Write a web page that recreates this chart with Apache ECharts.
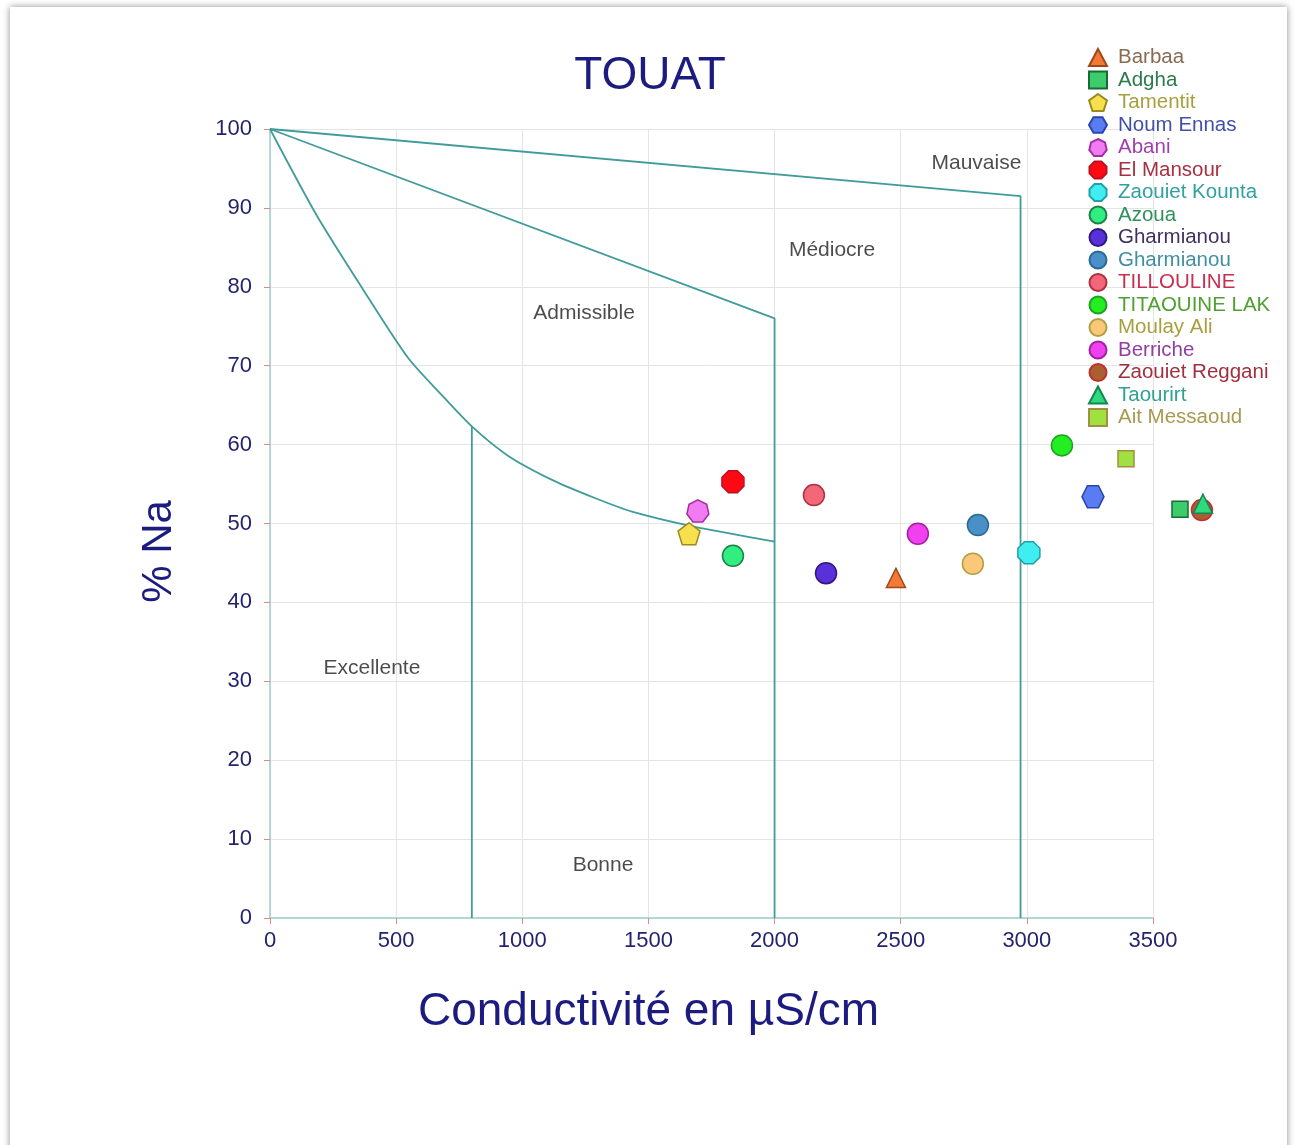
<!DOCTYPE html>
<html>
<head>
<meta charset="utf-8">
<title>TOUAT</title>
<script src="https://cdn.jsdelivr.net/npm/echarts@6/dist/echarts.min.js"></script>
<style>
  html, body { margin: 0; padding: 0; background: #ffffff; }
  #chart { width: 1296px; height: 1145px; }
</style>
</head>
<body>
<div id="chart"></div>
<script>
// Wilcox-style classification: %Na versus conductivity (µS/cm)
const xTicks = [0, 500, 1000, 1500, 2000, 2500, 3000, 3500];
const yTicks = [0, 10, 20, 30, 40, 50, 60, 70, 80, 90, 100];

// Sample sites
const siteNames = [
  'Barbaa', 'Adgha', 'Tamentit', 'Noum Ennas', 'Abani', 'El Mansour',
  'Zaouiet Kounta', 'Azoua', 'Gharmianou', 'Gharmianou ', 'TILLOULINE',
  'TITAOUINE LAK', 'Moulay Ali', 'Berriche', 'Zaouiet Reggani', 'Taourirt',
  'Ait Messaoud'
];
const conductivity = [2481, 3607, 1661, 3262, 1696, 1835, 3008, 1835, 2204, 2806, 2156, 3139, 2786, 2568, 3694, 3698, 3393];
const sodiumPct    = [43.1, 51.8, 48.7, 53.4, 51.6, 55.3, 46.3, 45.9, 43.7, 49.8, 53.6, 59.9, 44.9, 48.7, 51.7, 52.5, 58.2];

// Class boundaries
const curveBoundary = [[0, 100], [186, 89], [370, 79.6], [547, 71], [680, 66.3], [800, 62.3], [943, 58.6], [1120, 55.5], [1290, 53.2], [1435, 51.5], [1680, 49.6], [2000, 47.7]];
const line800  = [[800, 62.3], [800, 0]];
const midBoundary = [[0, 100], [2000, 76], [2000, 0]];
const topBoundary = [[0, 100], [2975, 91.5], [2975, 0]];

// Class names
const zoneNames  = ['Mauvaise', 'Médiocre', 'Admissible', 'Excellente', 'Bonne'];
const zoneAnchor = [[2800, 95.7], [2228, 84.7], [1245, 76.7], [404, 31.7], [1320, 6.7]];

const PENTAGON = 'path://M50,0 L97.6,34.5 L79.4,90.5 L20.6,90.5 L2.4,34.5 Z';
const HEXAGON  = 'path://M25,6.7 L75,6.7 L100,50 L75,93.3 L25,93.3 L0,50 Z';
const HEPTAGON = 'path://M50,0 L89.1,18.8 L98.7,61.1 L71.7,95 L28.3,95 L1.3,61.1 L10.9,18.8 Z';
const OCTAGON  = 'path://M30,0 L70,0 L100,30 L100,70 L70,100 L30,100 L0,70 L0,30 Z';

const symbols = ['triangle', 'rect', PENTAGON, HEXAGON, HEPTAGON, OCTAGON,
  OCTAGON, 'circle', 'circle', 'circle', 'circle', 'circle', 'circle', 'circle',
  'circle', 'triangle', 'rect'];
const sizes = [19, 16, 22, 22, 22, 22, 22, 21, 21, 21, 21, 21, 21, 21, 21, 19, 16];
const fills = ['#f27a36', '#3ccc6a', '#f6e04e', '#5a7cf2', '#f27af2', '#ff0a14',
  '#40eef2', '#30ee80', '#5a30d8', '#4a90c8', '#f26878', '#22ee22', '#fac878',
  '#f040f0', '#a86030', '#30d880', '#a0e040'];
const borders = ['#a04818', '#1a6a3a', '#9a8a20', '#2a44b0', '#a030a0', '#c01020',
  '#20a0a8', '#208048', '#301880', '#2a6a90', '#b03040', '#20a020', '#b0a040',
  '#a020a0', '#c03030', '#108850', '#a09040'];
const legendColors = ['#8a6a50', '#2a7a4a', '#a8a040', '#4050a8', '#a040b0', '#a83040',
  '#30a0a0', '#30905a', '#403060', '#4090a0', '#c83050', '#50a030', '#a8a040',
  '#9040a0', '#a03040', '#30a090', '#a89a50'];

const TEAL = '#3f9c9a';
const NAVY = '#1c1c80';
const FONT = '"Liberation Sans", Arial, sans-serif';

function boundary(data, smooth) {
  return {
    type: 'line', data: data, symbol: 'none', silent: true, z: 1,
    smooth: smooth ? 0.25 : false,
    lineStyle: { color: TEAL, width: 1.8 }
  };
}

const siteSeries = siteNames.map((name, i) => ({
  type: 'scatter',
  name: name,
  data: [[conductivity[i], sodiumPct[i]]],
  symbol: symbols[i],
  symbolSize: sizes[i],
  clip: false,
  z: 3,
  itemStyle: { color: fills[i], borderColor: borders[i], borderWidth: 1.5, opacity: 1 }
}));

const chart = echarts.init(document.getElementById('chart'));
chart.setOption({
  backgroundColor: '#ffffff',
  animation: false,
  graphic: [{
    type: 'rect', z: -10, silent: true,
    shape: { x: 10, y: 7, width: 1277, height: 1200 },
    style: { fill: '#ffffff', shadowBlur: 7, shadowColor: 'rgba(0,0,0,0.45)', shadowOffsetX: 0, shadowOffsetY: 0 }
  }],
  title: {
    text: 'TOUAT', left: 645, top: 48, textAlign: 'center',
    textStyle: { color: NAVY, fontSize: 46, fontWeight: 'normal', fontFamily: FONT }
  },
  legend: {
    orient: 'vertical', left: 1083, top: 42,
    itemWidth: 18, itemHeight: 17, itemGap: 1.5,
    textStyle: { fontSize: 20.5, fontFamily: FONT, lineHeight: 20, padding: [0, 0, 0, 6] },
    data: siteNames.map((n, i) => ({ name: n, textStyle: { color: legendColors[i] } }))
  },
  grid: { left: 270, right: 143, top: 129, bottom: 227 },
  xAxis: {
    type: 'value', min: 0, max: 3500, interval: 500,
    name: 'Conductivité en µS/cm', nameLocation: 'middle', nameGap: 71,
    nameTextStyle: { color: NAVY, fontSize: 46, fontFamily: FONT, padding: [0, 126, 0, 0] },
    axisLine: { show: true, lineStyle: { color: '#9ccfcf', width: 1.5 } },
    axisTick: { show: true, length: 6, lineStyle: { color: '#e08a80' } },
    axisLabel: { color: '#24246e', fontSize: 22, fontFamily: FONT, margin: 12, formatter: v => String(v) },
    splitLine: { show: true, lineStyle: { color: '#e4e4e4', width: 1 } }
  },
  yAxis: {
    type: 'value', min: 0, max: 100, interval: 10,
    name: '% Na', nameLocation: 'middle', nameGap: 90, nameRotate: 90,
    nameTextStyle: { color: NAVY, fontSize: 42, fontFamily: FONT, padding: [0, 56, 0, 0] },
    axisLine: { show: true, lineStyle: { color: '#9ccfcf', width: 1.5 } },
    axisTick: { show: true, length: 6, lineStyle: { color: '#e08a80' } },
    axisLabel: { color: '#24246e', fontSize: 22, fontFamily: FONT, margin: 18 },
    splitLine: { show: true, lineStyle: { color: '#e4e4e4', width: 1 } }
  },
  series: [
    boundary(curveBoundary, true),
    boundary(line800),
    boundary(midBoundary),
    boundary(topBoundary),
    {
      type: 'scatter', name: 'zones', silent: true, z: 2,
      data: zoneAnchor.map((p, i) => ({ value: p, name: zoneNames[i] })),
      symbol: 'circle', symbolSize: 1,
      itemStyle: { color: 'rgba(0,0,0,0)' },
      label: {
        show: true, position: 'inside', formatter: '{b}',
        color: '#1e1e1e', fontSize: 21, fontFamily: FONT
      }
    }
  ].concat(siteSeries)
});
</script>
</body>
</html>
